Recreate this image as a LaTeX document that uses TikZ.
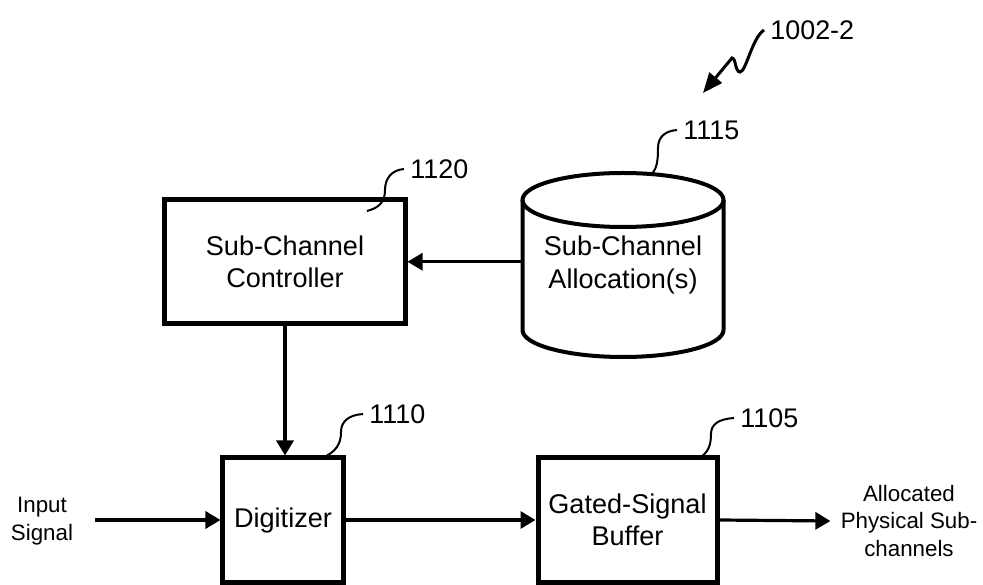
\documentclass[tikz,border=0pt]{standalone}
\usepackage{fontspec}
\setmainfont{Liberation Sans}
\usetikzlibrary{arrows.meta,positioning,calc}

\begin{document}
\begin{tikzpicture} [x = 0.5bp, y = -0.5bp,
        bloque/.style = {draw, line width=2.5bp, align=center, font=\fontsize{13.6}{16}\selectfont},
        flecha/.style = {line width=1.6bp, -{Triangle[length=7.5bp, width=8.5bp]}},
        guia/.style   = {line width=1bp},
        numero/.style = {anchor=west, inner sep=3bp, font=\fontsize{13.5}{16}\selectfont},
        senal/.style  = {align=center, inner sep=5bp, font=\fontsize{11.2}{13.9}\selectfont}]
            \useasboundingbox (0,0) rectangle (983,585);
            % Bloques
            \node[bloque, minimum width=120bp, minimum height=62.25bp] (ctrl) at (285,261.75) {Sub-Channel\\Controller};
            \node[align=center, outer sep=0pt, minimum width=100.5bp, minimum height=92bp, font=\fontsize{13.6}{16.5}\selectfont] (alloc) at (623,265) {Sub-Channel\\Allocation(s)};
            \node[bloque, minimum width=60bp, minimum height=62bp] (dig) at (283,520) {Digitizer};
            \node[bloque, minimum width=89.5bp, minimum height=62bp] (buf) at (627.5,520) {Gated-Signal\\Buffer};
            \node[senal] (in) at (42,521) {Input\\Signal};
            \node[senal] (out) at (909,521) {Allocated\\Physical Sub-\\channels};
            % Cilindro
            \draw[line width=2bp] ($(alloc.north)+(0,27)$) ellipse [x radius=100.5, y radius=27];
            \draw[line width=2bp] ($(alloc.north west)+(0,27)$) -- ($(alloc.south west)+(0,-27)$)
                arc [start angle=180, end angle=0, x radius=100.5, y radius=27] -- ($(alloc.north east)+(0,27)$);
            % Flechas
            \draw[flecha] (alloc.west |- ctrl.east) -- (ctrl.east);
            \draw[flecha] (ctrl.south) -- (ctrl.south |- dig.north);
            \coordinate (src) at (95,520);
            \draw[flecha] (src) -- (dig.west);
            \foreach \a/\b in {dig/buf, buf/out}
                \draw[flecha] (\a.east) -- (\b.west);
            % Referencias
            \node[numero] (n1120) at (404,169) {1120};
            \node[numero] (n1115) at (677,130) {1115};
            \node[numero] (n1110) at (363,414) {1110};
            \node[numero] (n1105) at (734,418) {1105};
            \node[numero] (n1002) at (764,30) {1002-2};
            \draw[guia] (n1120.west) .. controls (392,170) and (385,178) .. (385,190) .. controls (385,203) and (378,208) .. (367,211);
            \draw[guia] (n1115.west) .. controls (664,131) and (658,138) .. (658,148) .. controls (658,160) and (657,168) .. (652,174);
            \draw[guia] (n1110.west) .. controls (348,415) and (341,422) .. (341,432) .. controls (341,444) and (336,452) .. (322,458);
            \draw[guia] (n1105.west) .. controls (719,419) and (711,424) .. (711,434) .. controls (711,446) and (708,453) .. (698,459);
            \draw[line width=1.5bp, -{Triangle[length=10bp, width=8bp]}] (n1002.west) .. controls (752,38) and (746,72) .. (740,72)
                .. controls (735,72) and (736,58) .. (732,58) -- (703,93);
        \end{tikzpicture}
\end{document}
